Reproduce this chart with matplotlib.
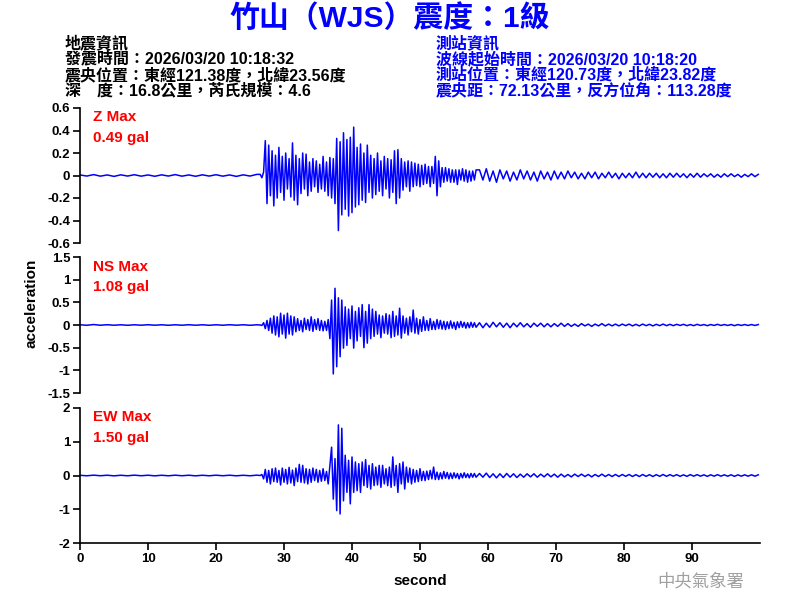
import numpy as np
import matplotlib
matplotlib.use("Agg")
import matplotlib.pyplot as plt

FAM = ['Liberation Sans', 'Noto Sans CJK TC', 'DejaVu Sans']
plt.rcParams['font.family'] = FAM

# ---------------- text ----------------
title = "竹山（WJS）震度：1級"
quake_info = ["地震資訊",
              "發震時間：2026/03/20 10:18:32",
              "震央位置：東經121.38度，北緯23.56度",
              "深　度：16.8公里，芮氏規模：4.6"]
station_info = ["測站資訊",
                "波線起始時間：2026/03/20 10:18:20",
                "測站位置：東經120.73度，北緯23.82度",
                "震央距：72.13公里，反方位角：113.28度"]
components = ["Z", "NS", "EW"]
max_labels = ["0.49 gal", "1.08 gal", "1.50 gal"]
y_limits = [0.6, 1.5, 2.0]
y_ticks = [[-0.6, -0.4, -0.2, 0, 0.2, 0.4, 0.6],
           [-1.5, -1, -0.5, 0, 0.5, 1, 1.5],
           [-2, -1, 0, 1, 2]]
x_ticks = [0, 10, 20, 30, 40, 50, 60, 70, 80, 90]

# ---------------- waveform samples ----------------
# pre-event noise: 1 s step from 0 s
z_pre = [0.005, -0.005, 0.008, -0.006, 0.005, -0.008, 0.006, -0.005, 0.007, -0.006,
         0.005, -0.007, 0.006, -0.005, 0.008, -0.006, 0.005, -0.007, 0.006, -0.005,
         0.007, -0.006, 0.005, -0.008, 0.006, -0.005, 0.01]
ns_pre = [0.005, -0.006, 0.01, -0.005, 0.006, -0.005, 0.005, -0.006, 0.005, -0.005,
          0.006, -0.005, 0.005, -0.006, 0.005, -0.005, 0.006, -0.005, 0.005, -0.006,
          0.005, -0.005, 0.006, -0.005, 0.005, -0.006, 0.005]
ew_pre = [0.006, -0.008, 0.01, -0.007, 0.008, -0.01, 0.007, -0.008, 0.01, -0.007,
          0.008, -0.01, 0.007, -0.008, 0.009, -0.007, 0.008, -0.01, 0.007, -0.008,
          0.009, -0.007, 0.008, -0.009, 0.007, -0.008, 0.01]

# main shaking: 0.25 s step from 26.5 s
z_main = [0.01, -0.02, 0.03, 0.31, -0.25, 0.27, -0.18, 0.22, -0.27, 0.18,
          -0.2, 0.25, -0.15, 0.17, -0.22, 0.2, -0.12, 0.15, -0.19, 0.29,
          -0.22, 0.18, -0.26, 0.15, -0.16, 0.2, -0.12, 0.19, -0.18, 0.12,
          -0.14, 0.15, -0.1, 0.13, -0.15, 0.1, -0.12, 0.17, -0.14, 0.12,
          -0.18, 0.16, -0.2, 0.15, -0.25, 0.33, -0.49, 0.3, -0.35, 0.38,
          -0.3, 0.32, -0.36, 0.34, -0.33, 0.43, -0.28, 0.25, -0.26, 0.28,
          -0.22, 0.2, -0.24, 0.27, -0.15, 0.18, -0.2, 0.15, -0.17, 0.2,
          -0.14, 0.13, -0.18, 0.17, -0.12, 0.15, -0.2, 0.14, -0.15, 0.22,
          -0.25, 0.23, -0.2, 0.15, -0.13, 0.12, -0.1, 0.13, -0.14, 0.12,
          -0.1, 0.11, -0.09, 0.1, -0.1, 0.09, -0.08, 0.1, -0.07, 0.08,
          -0.1, 0.08, -0.07, 0.17, -0.18, 0.13, -0.1, 0.07, -0.06, 0.07,
          -0.05, 0.06, -0.06, 0.05, -0.06, 0.05, -0.08, 0.05, -0.04, 0.06,
          -0.05, 0.05, -0.06, 0.04, -0.05, 0.04, -0.04, 0.05]
ns_main = [0.0, -0.01, 0.05, -0.08, 0.1, -0.12, 0.15, -0.18, 0.2, -0.22,
           0.18, -0.26, 0.26, -0.2, 0.22, -0.29, 0.26, -0.2, 0.2, -0.22,
           0.18, -0.15, 0.14, -0.12, 0.1, -0.15, 0.15, -0.1, 0.12, -0.12,
           0.18, -0.14, 0.12, -0.1, 0.14, -0.12, 0.1, -0.13, 0.08, -0.12,
           0.12, -0.3, 0.55, -1.08, 0.81, -0.92, 0.6, -0.7, 0.55, -0.51,
           0.4, -0.45, 0.35, -0.3, 0.42, -0.51, 0.3, -0.35, 0.38, -0.25,
           0.45, -0.5, 0.3, -0.4, 0.45, -0.3, 0.35, -0.25, 0.3, -0.2,
           0.22, -0.28, 0.2, -0.18, 0.25, -0.2, 0.22, -0.28, 0.3, -0.25,
           0.2, -0.22, 0.37, -0.29, 0.2, -0.18, 0.15, -0.22, 0.18, -0.15,
           0.33, -0.18, 0.15, -0.2, 0.12, -0.14, 0.18, -0.12, 0.1, -0.12,
           0.14, -0.1, 0.08, -0.1, 0.12, -0.08, 0.1, -0.09, 0.08, -0.1,
           0.07, -0.08, 0.09, -0.07, 0.06, -0.1, 0.07, -0.06, 0.08, -0.05,
           0.06, -0.07, 0.05, -0.06, 0.06, -0.05, 0.05, -0.05]
ew_main = [0.0, 0.03, -0.1, 0.18, -0.2, 0.15, -0.25, 0.2, -0.18, 0.22,
           -0.2, 0.15, -0.28, 0.22, -0.2, 0.18, -0.25, 0.24, -0.22, 0.16,
           -0.3, 0.22, -0.18, 0.33, -0.2, 0.3, -0.22, 0.2, -0.25, 0.18,
           -0.2, 0.22, -0.15, 0.18, -0.2, 0.15, -0.17, 0.2, -0.15, 0.12,
           -0.25, 0.3, 0.84, -0.7, 0.5, -1.04, 1.5, -1.14, 1.4, -0.75,
           0.6, -0.5, 0.45, -0.84, 0.55, -0.5, 0.4, -0.45, 0.35, -0.5,
           0.4, -0.3, 0.47, -0.35, 0.3, -0.4, 0.35, -0.3, 0.25, -0.28,
           0.3, -0.35, 0.3, -0.25, 0.2, -0.3, 0.25, -0.35, 0.55, -0.3,
           0.3, -0.5, 0.35, -0.25, 0.4, -0.4, 0.25, -0.2, 0.22, -0.25,
           0.18, -0.2, 0.15, -0.18, 0.2, -0.15, 0.12, -0.15, 0.13, -0.12,
           0.15, -0.1, 0.25, -0.12, 0.1, -0.12, 0.08, -0.1, 0.12, -0.08,
           0.09, -0.1, 0.07, -0.09, 0.08, -0.07, 0.06, -0.1, 0.06, -0.07,
           0.08, -0.06, 0.05, -0.07, 0.06, -0.05, 0.06, -0.05]

# coda: 0.5 s step after the main part
z_tail = [0.05, -0.04, 0.06, -0.05, 0.04, -0.06, 0.05, -0.03, 0.04, -0.05,
          0.03, -0.04, 0.05, -0.03, 0.04, -0.04, 0.03, -0.05, 0.04, -0.03,
          0.03, -0.04, 0.04, -0.03, 0.03, -0.03, 0.04, -0.02, 0.03, -0.03,
          0.02, -0.03, 0.03, -0.02, 0.03, -0.03, 0.02, -0.02, 0.03, -0.02,
          0.02, -0.03, 0.02, -0.02, 0.02, -0.02, 0.03, -0.02, 0.02, -0.02,
          0.02, -0.015, 0.02, -0.02, 0.015, -0.02, 0.02, -0.015, 0.02, -0.015,
          0.015, -0.02, 0.015, -0.015, 0.02, -0.015, 0.015, -0.01, 0.015, -0.015,
          0.01, -0.015, 0.015, -0.01, 0.015, -0.01, 0.01, -0.015, 0.01, -0.01,
          0.015, -0.01, 0.01]
ns_tail = [0.05, -0.06, 0.04, -0.05, 0.06, -0.04, 0.05, -0.05, 0.04, -0.06,
           0.04, -0.04, 0.05, -0.04, 0.03, -0.05, 0.04, -0.03, 0.04, -0.04,
           0.03, -0.04, 0.03, -0.03, 0.04, -0.03, 0.03, -0.03, 0.02, -0.03,
           0.03, -0.02, 0.02, -0.03, 0.02, -0.02, 0.03, -0.02, 0.02, -0.02,
           0.02, -0.02, 0.02, -0.015, 0.02, -0.02, 0.015, -0.02, 0.02, -0.015,
           0.015, -0.02, 0.015, -0.015, 0.02, -0.015, 0.015, -0.015, 0.015, -0.01,
           0.015, -0.015, 0.01, -0.015, 0.015, -0.01, 0.01, -0.015, 0.01, -0.01,
           0.015, -0.01, 0.01, -0.01, 0.01, -0.015, 0.01, -0.01, 0.01, -0.01,
           0.01, -0.01, 0.01]
ew_tail = [0.06, -0.05, 0.07, -0.06, 0.05, -0.07, 0.05, -0.06, 0.06, -0.05,
           0.05, -0.06, 0.04, -0.05, 0.05, -0.04, 0.05, -0.05, 0.04, -0.04,
           0.05, -0.04, 0.04, -0.05, 0.04, -0.04, 0.03, -0.04, 0.04, -0.03,
           0.04, -0.03, 0.03, -0.04, 0.03, -0.03, 0.04, -0.03, 0.03, -0.03,
           0.03, -0.03, 0.03, -0.025, 0.03, -0.03, 0.025, -0.03, 0.03, -0.025,
           0.025, -0.03, 0.025, -0.025, 0.03, -0.025, 0.025, -0.02, 0.025, -0.025,
           0.02, -0.025, 0.025, -0.02, 0.025, -0.02, 0.02, -0.025, 0.02, -0.02,
           0.025, -0.02, 0.02, -0.02, 0.02, -0.025, 0.02, -0.02, 0.02, -0.02,
           0.02, -0.02, 0.02]

traces = [(z_pre, z_main, z_tail), (ns_pre, ns_main, ns_tail), (ew_pre, ew_main, ew_tail)]


def build(pre, main, tail):
    t_pre = np.arange(len(pre)) * 1.0
    t_main = 26.5 + np.arange(len(main)) * 0.25
    t_tail = t_main[-1] + 0.5 + np.arange(len(tail)) * 0.5
    t = np.concatenate([t_pre, t_main, t_tail])
    y = np.concatenate([pre, main, tail])
    return t, y


def fmt(v):
    if v == 0:
        return "0"
    if float(v).is_integer():
        return str(int(v))
    return ("%.1f" % v)


fig = plt.figure(figsize=(8, 6), dpi=100)
fig.patch.set_facecolor('white')

blue = '#0000FF'
fig.text(0.4875, 1 - 19 / 600, title, ha='center', va='center', color=blue,
         fontsize=21.5, fontweight='bold', family=FAM)
for i, line in enumerate(quake_info):
    fig.text(65 / 800, 1 - (43 + 16 * i) / 600, line, ha='left', va='center',
             color='black', fontsize=11.5, fontweight='bold', family=FAM)
for i, line in enumerate(station_info):
    fig.text(436 / 800, 1 - (43 + 16 * i) / 600, line, ha='left', va='center',
             color=blue, fontsize=11.5, fontweight='bold', family=FAM)

panels = [(108, 243), (257, 393), (408, 543)]
axes = []
for k, (top, bot) in enumerate(panels):
    ax = fig.add_axes([80 / 800, 1 - bot / 600, 680 / 800, (bot - top) / 600])
    t, y = build(*traces[k])
    ax.plot(t, y, color=blue, lw=1.1)
    ax.set_xlim(0, 100)
    ax.set_ylim(-y_limits[k], y_limits[k])
    ax.set_yticks(y_ticks[k])
    ax.set_yticklabels([fmt(v) for v in y_ticks[k]], fontsize=9.5, fontweight='bold')
    for s in ['top', 'right']:
        ax.spines[s].set_visible(False)
    ax.spines['left'].set_linewidth(1.2)
    ax.tick_params(axis='y', direction='out', length=5, width=1.2, pad=2)
    if k < 2:
        ax.spines['bottom'].set_visible(False)
        ax.set_xticks([])
    else:
        ax.spines['bottom'].set_linewidth(1.2)
        ax.set_xticks(x_ticks)
        ax.set_xticklabels([str(v) for v in x_ticks], fontsize=9.5, fontweight='bold')
        ax.tick_params(axis='x', direction='out', length=5, width=1.2, pad=2)
        ax.set_xlabel("second", fontsize=11, fontweight='bold', labelpad=7)
    ax.text(0.019, 0.93, components[k] + " Max", transform=ax.transAxes, color='red',
            fontsize=11, fontweight='bold', ha='left', va='center')
    ax.text(0.019, 0.78, max_labels[k], transform=ax.transAxes, color='red',
            fontsize=11, fontweight='bold', ha='left', va='center')
    axes.append(ax)

fig.text(32 / 800, 1 - 303 / 600, "acceleration", rotation=90, ha='center', va='center',
         fontsize=11, fontweight='bold')
fig.text(701 / 800, 1 - 581 / 600, "中央氣象署", ha='center', va='center',
         color='#a0a0a0', fontsize=12.5, family=['Noto Sans CJK TC'])

fig.savefig("out.png", dpi=100, facecolor='white')
